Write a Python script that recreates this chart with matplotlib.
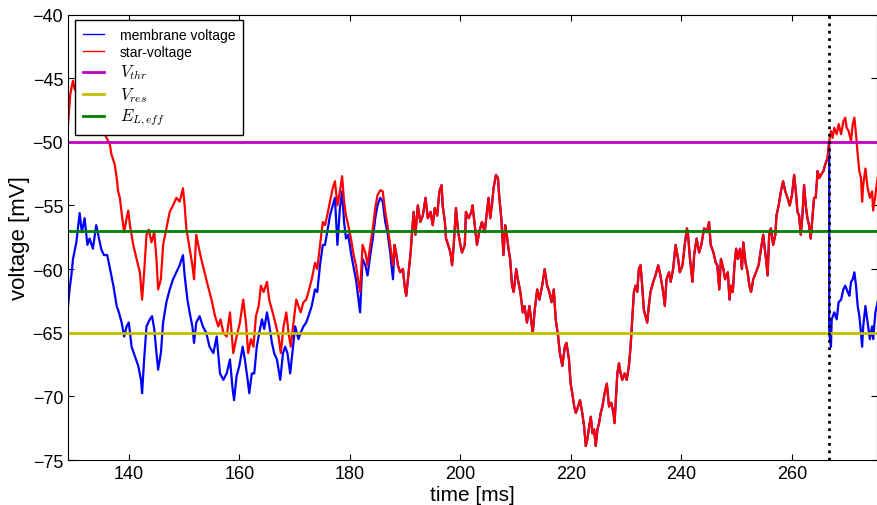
import numpy as np
import matplotlib
matplotlib.use("Agg")
import matplotlib.pyplot as plt

plt.rcParams['font.family'] = ['Liberation Sans', 'DejaVu Sans']
plt.rcParams['mathtext.fontset'] = 'cm'

# thresholds [mV] and spike time [ms]
V_thr = -50.0
V_res = -65.0
E_L_eff = -57.0
t_spike = 266.75

# star-voltage before the two traces merge
t_red_early = [129.0, 129.2, 129.4, 129.6, 129.9, 130.2, 130.5, 131.2, 132.0, 132.8, 133.6, 134.4,
               135.05, 135.65, 136.56, 136.86, 137.46, 137.8, 138.07, 138.37, 138.67, 139.15, 139.6, 139.9,
               140.2, 140.8, 141.4, 142.0, 142.4, 142.77, 143.2, 143.6, 144.1, 144.6, 145.0, 145.3,
               145.8, 146.2, 146.8, 147.4, 148.0, 148.6, 149.2, 149.8, 150.1, 150.4, 151.0, 151.5,
               151.8, 152.2, 152.7, 153.1, 153.7, 154.3, 154.96, 155.6, 156.2, 156.6, 157.1, 157.7,
               158.3, 158.9, 159.5, 160.1, 160.7, 161.2, 161.6, 162.1, 162.55, 163.0, 163.5, 163.9,
               164.4, 165.0, 165.4, 165.9, 166.5, 167.1, 167.5, 168.0, 168.5, 168.9, 169.3, 169.8,
               170.3, 170.7, 171.1, 171.6, 172.1, 172.5, 173.1, 173.7, 174.1, 174.6, 175.1, 175.5,
               175.9, 176.4, 176.9, 177.3, 177.75, 178.2, 178.6, 178.95, 179.3, 179.7, 180.2, 180.6,
               181.1, 181.55, 181.85, 182.3, 182.8, 183.2, 183.7, 184.15, 184.6, 185.0, 185.5, 185.95,
               186.4, 186.8, 187.3, 187.8]
v_red_early = [-48.6, -47.4, -46.3, -45.8, -45.2, -45.9, -45.6, -46.5, -47.2, -46.8, -47.9, -48.2,
               -48.8, -49.4, -50.2, -51.0, -51.8, -52.85, -53.9, -54.4, -55.5, -57.1, -56.0, -55.4,
               -56.55, -58.1, -59.2, -60.25, -62.4, -60.25, -57.3, -56.9, -57.9, -57.1, -59.2, -61.6,
               -60.8, -58.1, -56.8, -55.5, -55.0, -54.4, -54.7, -53.65, -55.0, -56.8, -58.4, -59.7,
               -60.8, -57.3, -58.4, -59.2, -60.25, -61.3, -62.4, -63.7, -64.5, -63.95, -65.0, -65.3,
               -63.4, -66.6, -65.3, -64.2, -62.4, -64.2, -66.6, -65.5, -66.1, -63.7, -62.9, -61.3,
               -61.8, -61.0, -62.4, -63.2, -64.2, -65.3, -66.6, -64.5, -63.4, -65.0, -66.1, -64.2,
               -62.4, -62.9, -63.4, -62.6, -62.4, -61.8, -60.8, -59.5, -60.0, -58.1, -56.3, -56.55,
               -55.8, -54.7, -53.65, -53.1, -55.0, -53.9, -52.7, -54.7, -55.8, -56.55, -57.6, -58.7,
               -59.7, -61.0, -61.8, -58.1, -58.7, -59.7, -58.1, -56.8, -55.2, -54.2, -53.8, -53.9,
               -55.5, -56.55, -58.1, -59.7]

# membrane voltage before the two traces merge
t_blue_early = [129.0, 129.3, 129.6, 129.9, 130.5, 131.1, 131.5, 132.0, 132.5, 132.9, 133.5, 134.1,
                134.6, 135.05, 135.5, 136.1, 136.6, 137.2, 137.8, 138.2, 138.7, 139.15, 139.6, 140.0,
                140.5, 141.1, 141.7, 142.2, 142.4, 142.77, 143.2, 143.8, 144.2, 144.6, 145.0, 145.3,
                145.8, 146.2, 146.8, 147.4, 148.0, 148.6, 149.2, 149.8, 150.1, 150.6, 151.0, 151.5,
                151.8, 152.2, 152.8, 153.4, 154.0, 154.6, 155.3, 155.9, 156.5, 157.1, 157.7, 158.3,
                158.8, 159.05, 159.5, 160.0, 160.6, 161.0, 161.5, 161.8, 162.25, 162.7, 163.15, 163.6,
                164.1, 164.5, 165.0, 165.45, 165.9, 166.3, 166.8, 167.4, 167.9, 168.3, 168.7, 169.2,
                169.7, 170.1, 170.7, 171.1, 171.6, 172.1, 172.5, 173.1, 173.7, 174.1, 174.6, 175.1,
                175.5, 175.9, 176.4, 176.9, 177.3, 177.75, 178.2, 178.6, 178.95, 179.3, 179.7, 180.2,
                180.6, 181.1, 181.55, 181.85, 182.3, 182.8, 183.2, 183.7, 184.15, 184.6, 185.0, 185.5,
                185.95, 186.4, 186.8, 187.3, 187.8]
v_blue_early = [-62.9, -61.5, -60.5, -59.2, -57.9, -55.6, -57.1, -56.0, -58.1, -57.6, -58.4, -56.55,
                -57.6, -58.5, -58.9, -58.9, -60.0, -61.3, -62.9, -63.4, -64.2, -65.3, -64.5, -64.2,
                -66.1, -66.85, -67.6, -68.7, -69.75, -67.1, -64.5, -63.95, -63.7, -64.7, -66.6, -67.9,
                -66.6, -64.2, -62.6, -61.6, -60.8, -60.25, -59.7, -58.9, -60.5, -62.4, -63.4, -64.5,
                -65.8, -64.2, -63.7, -64.5, -65.0, -66.1, -66.6, -65.3, -68.2, -68.7, -68.2, -67.1,
                -69.5, -70.3, -68.4, -67.6, -66.1, -67.1, -68.7, -69.75, -68.2, -68.2, -66.1, -65.0,
                -63.95, -64.7, -63.4, -64.5, -65.8, -66.6, -67.1, -68.7, -66.6, -66.1, -66.6, -68.2,
                -66.1, -64.5, -65.5, -65.0, -64.5, -64.2, -63.7, -62.9, -61.6, -61.8, -59.7, -58.1,
                -58.1, -57.1, -55.8, -55.0, -54.4, -58.1, -55.2, -53.9, -56.3, -57.6, -57.3, -58.7,
                -59.7, -60.8, -62.4, -63.4, -59.2, -59.7, -60.5, -58.9, -57.6, -56.0, -55.0, -54.4,
                -54.7, -56.3, -57.1, -58.7, -60.8]

# both traces coincide from here up to the spike
t_shared = [188.1, 188.35, 188.7, 189.1, 189.6, 189.9, 190.2, 190.5, 191.0, 191.25, 191.55, 191.85,
            192.3, 192.75, 193.2, 193.7, 194.1, 194.6, 195.0, 195.35, 195.8, 196.2, 196.6, 196.8,
            197.2, 197.4, 197.8, 198.2, 198.5, 198.8, 199.2, 199.6, 200.0, 200.3, 200.8, 201.0,
            201.5, 202.0, 202.2, 202.6, 203.0, 203.4, 203.9, 204.4, 204.8, 205.1, 205.4, 205.7,
            206.0, 206.45, 206.8, 207.05, 207.4, 207.8, 208.1, 208.4, 208.7, 209.0, 209.35, 209.65,
            210.1, 210.4, 210.85, 211.3, 211.6, 212.05, 212.5, 212.85, 213.1, 213.45, 213.9, 214.3,
            214.8, 215.25, 215.7, 216.1, 216.5, 216.9, 217.25, 217.7, 218.0, 218.45, 218.9, 219.2,
            219.65, 219.95, 220.25, 220.6, 220.9, 221.3, 221.65, 222.05, 222.4, 222.7, 222.97, 223.3,
            223.6, 223.9, 224.2, 224.5, 224.8, 225.1, 225.4, 225.7, 226.1, 226.5, 226.9, 227.3,
            227.7, 227.9, 228.2, 228.4, 228.7, 229.0, 229.3, 229.7, 230.1, 230.5, 230.8, 231.1,
            231.4, 231.7, 232.0, 232.3, 232.6, 232.9, 233.2, 233.5, 233.8, 234.1, 234.4, 234.9,
            235.3, 235.8, 236.2, 236.7, 237.0, 237.3, 237.75, 238.05, 238.5, 238.95, 239.4, 239.7,
            240.2, 240.6, 241.0, 241.2, 241.55, 242.0, 242.3, 242.75, 243.2, 243.6, 244.1, 244.6,
            245.0, 245.3, 245.8, 246.2, 246.5, 246.85, 247.15, 247.6, 247.9, 248.4, 248.7, 248.96,
            249.3, 249.6, 249.9, 250.2, 250.6, 250.95, 251.2, 251.6, 251.98, 252.3, 252.6, 253.0,
            253.5, 253.97, 254.4, 254.8, 255.3, 255.6, 255.9, 256.2, 256.6, 257.0, 257.2, 257.6,
            258.0, 258.4, 258.8, 259.2, 259.6, 260.0, 260.4, 260.7, 261.0, 261.3, 261.6, 261.9,
            262.2, 262.5, 262.8, 263.1, 263.4, 263.7, 264.0, 264.3, 264.65, 264.95, 265.25, 265.7,
            266.0, 266.45, 266.75]
v_shared = [-58.1, -58.7, -59.7, -60.25, -60.0, -61.3, -62.1, -60.8, -58.7, -57.1, -55.5, -57.3,
            -55.0, -56.3, -55.8, -54.4, -56.0, -55.5, -56.55, -55.2, -55.8, -53.9, -53.4, -55.0,
            -56.3, -57.6, -58.1, -58.7, -59.7, -58.1, -55.2, -57.1, -58.1, -58.7, -58.1, -55.5,
            -56.0, -55.5, -55.0, -56.55, -58.1, -57.1, -56.3, -57.1, -55.5, -54.4, -56.0, -55.0,
            -53.65, -52.6, -52.85, -54.4, -56.0, -58.9, -56.55, -57.3, -58.4, -59.2, -61.3, -61.8,
            -60.0, -60.8, -61.8, -63.4, -62.9, -64.2, -62.9, -64.2, -65.0, -63.2, -61.6, -62.4,
            -61.3, -60.0, -61.3, -61.8, -62.6, -61.6, -63.95, -65.3, -66.6, -67.6, -66.1, -65.8,
            -67.1, -69.0, -69.75, -70.8, -71.3, -70.8, -70.3, -71.3, -72.4, -73.9, -73.4, -72.4,
            -71.6, -72.9, -72.6, -73.9, -72.6, -72.1, -71.3, -70.8, -69.75, -69.0, -70.8, -70.5,
            -71.3, -72.1, -69.75, -68.2, -67.4, -68.2, -68.7, -68.2, -68.7, -67.6, -66.1, -63.95,
            -61.8, -61.3, -61.8, -60.0, -59.7, -61.3, -63.2, -63.7, -64.2, -62.9, -61.8, -61.0,
            -60.5, -59.7, -60.5, -61.8, -62.9, -60.8, -60.25, -61.0, -60.0, -58.1, -59.2, -60.25,
            -59.7, -58.1, -56.8, -57.3, -59.2, -61.0, -58.9, -57.6, -58.7, -58.1, -56.8, -57.1,
            -56.3, -58.1, -58.7, -59.5, -59.7, -61.6, -59.2, -60.0, -60.8, -60.25, -62.4, -61.3,
            -61.8, -59.7, -58.4, -59.2, -58.4, -60.0, -57.9, -59.5, -60.25, -61.3, -61.8, -60.8,
            -60.25, -59.7, -58.4, -57.3, -59.2, -60.5, -57.1, -56.8, -58.1, -57.3, -55.8, -55.0,
            -53.9, -53.1, -53.9, -54.4, -55.0, -54.2, -52.6, -53.9, -55.5, -55.8, -57.3, -55.8,
            -53.4, -55.0, -56.0, -56.55, -57.6, -56.0, -54.4, -54.4, -52.3, -52.85, -52.6, -52.3,
            -51.8, -51.3, -49.95]

# after the spike
t_red_late = [267.06, 267.36, 267.66, 268.1, 268.45, 268.9, 269.3, 269.65, 269.9, 270.25, 270.7, 271.0,
              271.3, 271.6, 271.9, 272.2, 272.5, 272.7, 272.9, 273.3, 273.7, 274.1, 274.5, 274.7,
              275.1, 275.5]
v_red_late = [-49.15, -49.7, -48.9, -49.4, -48.6, -49.4, -48.4, -48.1, -48.9, -49.15, -49.95, -48.6,
              -48.1, -49.4, -51.0, -52.3, -52.85, -54.7, -53.4, -52.1, -53.65, -54.4, -53.9, -55.4,
              -54.2, -52.85]

t_blue_late = [266.75, 267.06, 267.2, 267.66, 268.1, 268.45, 268.9, 269.3, 269.65, 270.1, 270.4, 270.7,
               271.0, 271.3, 271.6, 271.9, 272.2, 272.5, 272.7, 272.9, 273.3, 273.7, 274.1, 274.5,
               274.7, 275.1, 275.5]
v_blue_late = [-65.0, -66.1, -63.95, -63.4, -63.95, -62.6, -62.4, -61.6, -61.3, -61.8, -62.1, -61.0,
               -60.8, -60.25, -61.3, -62.9, -63.7, -65.0, -66.1, -64.5, -62.9, -64.2, -65.5, -64.5,
               -65.5, -63.4, -62.6]

t_blue = np.concatenate([t_blue_early, t_shared, t_blue_late])
v_blue = np.concatenate([v_blue_early, v_shared, v_blue_late])
t_red = np.concatenate([t_red_early, t_shared, t_red_late])
v_red = np.concatenate([v_red_early, v_shared, v_red_late])

fig = plt.figure(figsize=(8.78, 5.06), dpi=100)
ax = fig.add_axes([0.0775, 0.0889, 0.9214, 0.8804])

ax.plot(t_blue, v_blue, color='b', lw=1.6, label='membrane voltage')
ax.plot(t_red, v_red, color='r', lw=1.6, label='star-voltage')
ax.axhline(V_thr, color='m', lw=2, label='$V_{thr}$')
ax.axhline(V_res, color='y', lw=2, label='$V_{res}$')
ax.axhline(E_L_eff, color='g', lw=2, label='$E_{L,eff}$')
ax.axvline(t_spike, color='k', lw=2, ls=':')

ax.set_xlim(129.0, 275.4)
ax.set_ylim(-75, -40)
ax.set_xticks(np.arange(140, 261, 20))
ax.set_yticks(np.arange(-75, -39, 5))
ax.tick_params(direction='in', top=True, right=True, length=4, labelsize=13)
ax.set_xlabel('time [ms]', fontsize=15, labelpad=2)
ax.set_ylabel('voltage [mV]', fontsize=16, labelpad=2)

leg = ax.legend(loc='upper left', bbox_to_anchor=(0.0087, 0.988), borderaxespad=0,
                fontsize=10, fancybox=False, framealpha=1, edgecolor='k',
                borderpad=0.55, handlelength=1.5, handletextpad=1.15, labelspacing=0.25)
leg.get_frame().set_linewidth(1.0)
for txt in leg.get_texts()[2:]:
    txt.set_fontsize(12)
for line in leg.get_lines()[:2]:
    line.set_linewidth(1.0)

fig.savefig('out.png', dpi=100)
